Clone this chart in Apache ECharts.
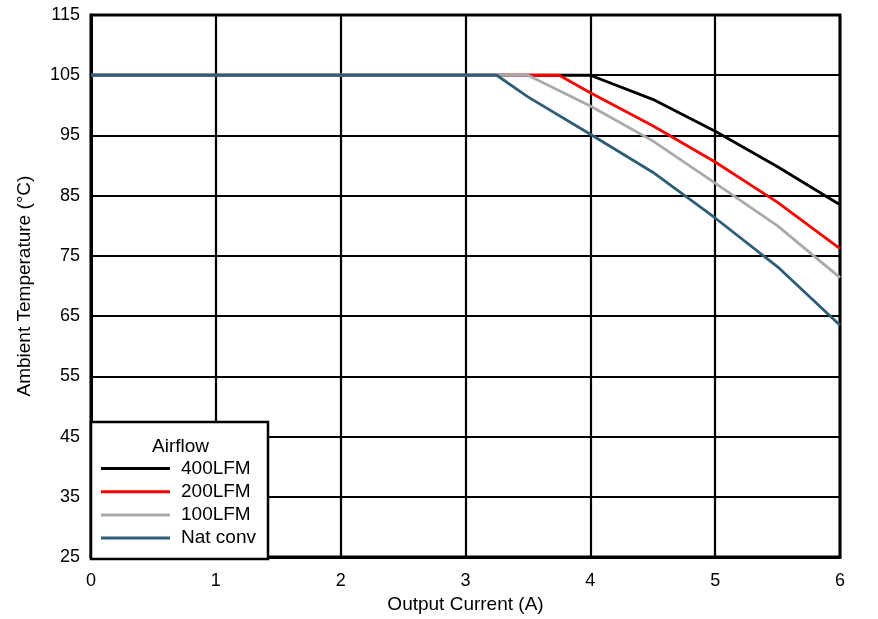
<!DOCTYPE html>
<html>
<head>
<meta charset="utf-8">
<script src="https://cdn.jsdelivr.net/npm/echarts@6/dist/echarts.min.js"></script>
<style>html,body{margin:0;padding:0;background:#fff}#c{width:878px;height:619px}</style>
</head>
<body>
<div id="c"></div>
<script>
const seriesNames = ['400LFM', '200LFM', '100LFM', 'Nat conv'];
const lfm400 = [[0,105],[4,105],[4.5,101],[5,95.7],[5.5,89.8],[6,83.5]];
const lfm200 = [[0,105],[3.75,105],[4,102.1],[4.5,96.6],[5,90.6],[5.5,83.9],[6,76.2]];
const lfm100 = [[0,105],[3.5,105],[4,99.9],[4.5,94.1],[5,87.1],[5.5,80],[6,71.4]];
const natConv = [[0,105],[3.25,105],[3.5,101.4],[4,95.2],[4.5,88.9],[5,81.3],[5.5,73.2],[6,63.5]];
const colors = ['#000000', '#ff0000', '#aaaaaa', '#2e5d78'];
const allData = [lfm400, lfm200, lfm100, natConv];

const font = 'Liberation Sans, Arial, sans-serif';
const chart = echarts.init(document.getElementById('c'), null, {renderer: 'canvas'});
chart.setOption({
  animation: false,
  backgroundColor: '#fff',
  textStyle: {fontFamily: font},
  grid: {left: 91, right: 38, top: 15, bottom: 59, show: true, borderColor: '#000', borderWidth: 3, backgroundColor: 'transparent', z: 1},
  xAxis: {
    type: 'value', min: 0, max: 6, interval: 1,
    name: 'Output Current (A)', nameLocation: 'middle', nameGap: 34,
    nameTextStyle: {color: '#000', fontSize: 19, fontFamily: font},
    axisLine: {show: true, lineStyle: {color: '#000', width: 3}},
    axisTick: {show: false},
    axisLabel: {color: '#000', fontSize: 18, fontFamily: font, margin: 15},
    splitLine: {show: true, lineStyle: {color: '#000', width: 2.2}}
  },
  yAxis: {
    type: 'value', min: 25, max: 115, interval: 10,
    name: 'Ambient Temperature (°C)', nameLocation: 'middle', nameGap: 57, nameRotate: 90,
    nameTextStyle: {color: '#000', fontSize: 19, fontFamily: font},
    axisLine: {show: true, lineStyle: {color: '#000', width: 3}},
    axisTick: {show: false},
    axisLabel: {color: '#000', fontSize: 18, fontFamily: font, margin: 11},
    splitLine: {show: true, lineStyle: {color: '#000', width: 2.2}}
  },
  legend: {
    orient: 'vertical', left: 96, top: 454, z: 120,
    itemWidth: 69, itemHeight: 14, itemGap: 4.2,
    icon: 'path://M0,5.5 L69,5.5 L69,8.5 L0,8.5 Z',
    textStyle: {color: '#000', fontSize: 19, fontFamily: font, padding: [0,0,0,6]},
    data: seriesNames
  },
  graphic: [
    {type: 'rect', z: 100, shape: {x: 91, y: 422, width: 177, height: 137}, style: {fill: '#fff', stroke: '#000', lineWidth: 2.5}},
    {type: 'text', z: 110, x: 152, y: 447, style: {text: 'Airflow', fill: '#000', font: '19px ' + font, textVerticalAlign: 'middle', verticalAlign: 'middle'}}
  ],
  series: allData.map((d, i) => ({
    name: seriesNames[i], type: 'line', data: d, showSymbol: false, symbol: 'none',
    lineStyle: {color: colors[i], width: 2.8}, itemStyle: {color: colors[i]}, z: 3 + i
  }))
});
</script>
</body>
</html>
